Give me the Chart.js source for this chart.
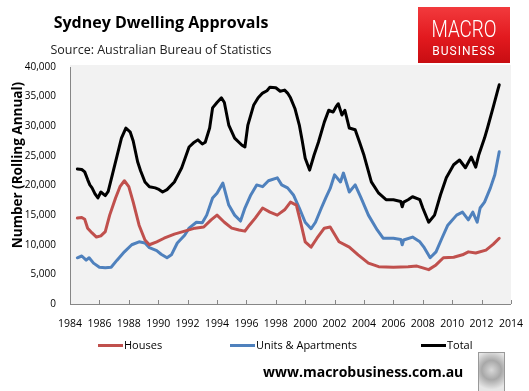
<!DOCTYPE html>
<html>
<head>
<meta charset="utf-8">
<script src="https://cdn.jsdelivr.net/npm/chart.js@4.4.1/dist/chart.umd.min.js"></script>
<style>
  html, body { margin: 0; padding: 0; background: #fff; }
  body { width: 529px; height: 391px; position: relative; overflow: hidden; font-family: "Open Sans", "Liberation Sans", sans-serif; }
  #c { position: absolute; left: 0; top: 0; }
  .title { position: absolute; left: 0; width: 322px; top: 11px; text-align: center; font-weight: bold; font-size: 16px; color: #000; }
  .sub { position: absolute; left: 0; width: 322px; top: 41px; text-align: center; font-size: 12.5px; color: #222; }
  .logo { position: absolute; left: 418px; top: 7px; width: 92px; height: 56px; background: linear-gradient(180deg, #f23a3d 0%, #e2191e 55%, #c80d12 100%); color: #fff; text-align: center; overflow: hidden; }
  .logo .m { position: absolute; left: 0; width: 92px; top: 10px; font-size: 23px; font-family: Roboto, "Liberation Sans", sans-serif; font-weight: 300; line-height: 26px; transform: scaleX(0.82); }
  .logo .b { position: absolute; left: 0; width: 92px; top: 37px; font-size: 12px; font-family: Roboto, "Liberation Sans", sans-serif; font-weight: 400; letter-spacing: 1px; line-height: 14px; }
  .ylab { position: absolute; left: -83px; top: 156px; width: 200px; height: 18px; line-height: 18px; text-align: center; transform: rotate(-90deg); white-space: nowrap; font-weight: bold; font-size: 13.5px; color: #000; }
  .leg { position: absolute; top: 337px; font-size: 11px; color: #000; white-space: nowrap; }
  .leg span.sw { display: inline-block; width: 25px; height: 3px; vertical-align: middle; margin-right: 1px; position: relative; top: -1px; }
  .url { position: absolute; left: 263px; top: 362px; font-weight: bold; font-size: 14px; color: #000; white-space: nowrap; }
  .wolf { position: absolute; left: 478px; top: 352px; width: 25px; height: 38px; border: 1px solid #999; background: radial-gradient(circle at 50% 45%, #d8d8d8 0%, #a8a8a8 40%, #e6e6e6 80%); }
</style>
</head>
<body>
<canvas id="c" width="529" height="391"></canvas>
<div class="title">Sydney Dwelling Approvals</div>
<div class="sub">Source: Australian Bureau of Statistics</div>
<div class="logo"><div class="m">MACRO</div><div class="b">BUSINESS</div></div>
<div class="ylab">Number (Rolling Annual)</div>
<div class="leg" style="left:98px"><span class="sw" style="background:#C0504D"></span>Houses</div>
<div class="leg" style="left:230px"><span class="sw" style="background:#4F81BD"></span>Units &amp; Apartments</div>
<div class="leg" style="left:421px"><span class="sw" style="background:#000"></span>Total</div>
<div class="url">www.macrobusiness.com.au</div>
<div class="wolf"></div>
<script>
// ---- Data ----
const seriesNames = ["Houses", "Units & Apartments", "Total"];
const xTickYears = [1984, 1986, 1988, 1990, 1992, 1994, 1996, 1998, 2000, 2002, 2004, 2006, 2008, 2010, 2012, 2014];
const yTickValues = [0, 5000, 10000, 15000, 20000, 25000, 30000, 35000, 40000];

const houseYears = [1984.5, 1984.8, 1985.0, 1985.2, 1985.5, 1985.8, 1986.1, 1986.4, 1986.7, 1987.1, 1987.4, 1987.7, 1988.0, 1988.3, 1988.7, 1989.1, 1989.4, 1989.9, 1990.4, 1991.1, 1991.8, 1992.5, 1993.1, 1993.6, 1994.0, 1994.5, 1995.0, 1995.5, 1995.9, 1996.2, 1996.6, 1997.1, 1997.6, 1998.1, 1998.6, 1999.0, 1999.4, 1999.7, 2000.0, 2000.4, 2000.8, 2001.3, 2001.7, 2002.3, 2003.0, 2003.6, 2004.3, 2005.0, 2006.0, 2007.0, 2007.6, 2008.0, 2008.4, 2008.9, 2009.4, 2010.1, 2010.7, 2011.1, 2011.6, 2012.3, 2012.8, 2013.2];
const houseValues = [14500, 14600, 14300, 12800, 12000, 11300, 11500, 12200, 15000, 17900, 19800, 20800, 19800, 17200, 13300, 10800, 10000, 10500, 11100, 11800, 12300, 12800, 13000, 14200, 15000, 13800, 12800, 12500, 12300, 13300, 14500, 16200, 15500, 15000, 15900, 17200, 16700, 13700, 10500, 9600, 11100, 12800, 13000, 10500, 9600, 8300, 6900, 6300, 6200, 6300, 6400, 6100, 5800, 6600, 7800, 7900, 8300, 8800, 8600, 9100, 10100, 11100];

const unitYears = [1984.5, 1984.8, 1985.1, 1985.3, 1985.6, 1986.0, 1986.4, 1986.8, 1987.2, 1987.7, 1988.2, 1988.7, 1989.1, 1989.4, 1989.9, 1990.2, 1990.6, 1990.9, 1991.3, 1991.8, 1992.1, 1992.6, 1993.0, 1993.3, 1993.7, 1994.0, 1994.4, 1994.8, 1995.2, 1995.6, 1995.9, 1996.3, 1996.7, 1997.1, 1997.5, 1998.1, 1998.4, 1998.8, 1999.2, 1999.6, 2000.0, 2000.4, 2000.7, 2001.1, 2001.4, 2001.7, 2002.0, 2002.4, 2002.6, 2003.0, 2003.4, 2003.8, 2004.3, 2004.9, 2005.3, 2006.0, 2006.5, 2006.6, 2006.7, 2007.3, 2007.8, 2008.1, 2008.5, 2008.9, 2009.3, 2009.7, 2010.3, 2010.7, 2011.1, 2011.4, 2011.7, 2011.9, 2012.2, 2012.6, 2012.9, 2013.2];
const unitValues = [7800, 8100, 7400, 7800, 6900, 6200, 6100, 6200, 7400, 8800, 10000, 10500, 10300, 9500, 9000, 8400, 7800, 8300, 10300, 11600, 12800, 13800, 13700, 15000, 17900, 18700, 20400, 16700, 15000, 14000, 16200, 18400, 20100, 19800, 20800, 21300, 20100, 19600, 18400, 16200, 13800, 12700, 13800, 16200, 17900, 19500, 21800, 20600, 22100, 18900, 20100, 17900, 15000, 12500, 11100, 11100, 10900, 10000, 10800, 11300, 10500, 9500, 7800, 8800, 11100, 13300, 15000, 15500, 14200, 15500, 13800, 16200, 17200, 19600, 21800, 25700];

const totalYears = [1984.5, 1984.8, 1985.0, 1985.2, 1985.35, 1985.5, 1985.7, 1985.9, 1986.1, 1986.4, 1986.6, 1986.9, 1987.2, 1987.5, 1987.8, 1988.1, 1988.3, 1988.6, 1988.8, 1989.1, 1989.4, 1989.8, 1990.0, 1990.3, 1990.6, 1991.1, 1991.6, 1992.1, 1992.4, 1992.7, 1993.0, 1993.2, 1993.5, 1993.7, 1994.0, 1994.3, 1994.5, 1994.8, 1995.2, 1995.7, 1995.9, 1996.1, 1996.5, 1996.8, 1997.1, 1997.4, 1997.6, 1998.0, 1998.3, 1998.6, 1998.8, 1999.0, 1999.3, 1999.6, 1999.8, 2000.0, 2000.3, 2000.6, 2000.9, 2001.3, 2001.6, 2001.9, 2002.1, 2002.25, 2002.5, 2002.7, 2003.0, 2003.4, 2003.7, 2004.0, 2004.5, 2005.0, 2005.5, 2006.0, 2006.5, 2006.6, 2006.7, 2007.0, 2007.3, 2007.8, 2008.0, 2008.4, 2008.8, 2009.2, 2009.6, 2010.1, 2010.5, 2010.9, 2011.3, 2011.6, 2011.8, 2012.2, 2012.4, 2012.8, 2013.1, 2013.2];
const totalValues = [22800, 22700, 22300, 21000, 20100, 19600, 18600, 17900, 18900, 18300, 19000, 22000, 25000, 28000, 29700, 29000, 27500, 24000, 22500, 20600, 19800, 19600, 19400, 18900, 19300, 20600, 23000, 26500, 27200, 27700, 27000, 27300, 29700, 33100, 34000, 34800, 34000, 30200, 28000, 26800, 26500, 30200, 33600, 34800, 35600, 36000, 36600, 36500, 35900, 36100, 35600, 34800, 33000, 30200, 27500, 24600, 22600, 25100, 27300, 30700, 32700, 32400, 33300, 33800, 31900, 32700, 29700, 29400, 27300, 25100, 20600, 18700, 17600, 17600, 17300, 16400, 17200, 17600, 18100, 17600, 16200, 13800, 15000, 18400, 21300, 23500, 24300, 23000, 24800, 23100, 25100, 28000, 29700, 33300, 36100, 37000];

function pts(xs, ys) { return xs.map((x, i) => ({ x: x, y: ys[i] })); }

const bgPlugin = {
  id: 'plotBg',
  beforeDraw(chart) {
    const { ctx, chartArea: a } = chart;
    ctx.save();
    ctx.fillStyle = '#f2f2f2';
    ctx.fillRect(a.left, a.top - 2, a.right - a.left, a.bottom - a.top + 2);
    ctx.restore();
  },
  afterDatasetsDraw(chart) {
    const { ctx, chartArea: a, scales: { x } } = chart;
    ctx.save();
    ctx.strokeStyle = '#868686';
    ctx.lineWidth = 1;
    xTickYears.forEach(v => {
      const px = Math.round(x.getPixelForValue(v)) + 0.5;
      ctx.beginPath();
      ctx.moveTo(px, a.bottom);
      ctx.lineTo(px, a.bottom - 4);
      ctx.stroke();
    });
    ctx.restore();
  }
};

new Chart(document.getElementById('c'), {
  type: 'line',
  data: {
    datasets: [
      { label: seriesNames[0], data: pts(houseYears, houseValues), borderColor: '#C0504D', borderWidth: 3 },
      { label: seriesNames[1], data: pts(unitYears, unitValues), borderColor: '#4F81BD', borderWidth: 3 },
      { label: seriesNames[2], data: pts(totalYears, totalValues), borderColor: '#000000', borderWidth: 3 }
    ]
  },
  options: {
    responsive: false,
    animation: false,
    events: [],
    layout: { padding: { left: 0, top: 67, right: 17, bottom: 57 } },
    elements: { point: { radius: 0 }, line: { tension: 0, borderJoinStyle: 'round', borderCapStyle: 'round' } },
    plugins: { legend: { display: false }, title: { display: false }, tooltip: { enabled: false } },
    scales: {
      x: {
        type: 'linear', min: 1984, max: 2014,
        afterBuildTicks(s) { s.ticks = xTickYears.map(v => ({ value: v })); },
        afterFit(s) { s.height = 30; },
        grid: { display: false },
        border: { display: true, color: '#868686', width: 1 },
        ticks: { autoSkip: false, maxRotation: 0, padding: 6, color: '#000', font: { family: 'Open Sans', size: 10.5 }, callback: v => String(v) }
      },
      y: {
        min: 0, max: 40000,
        afterBuildTicks(s) { s.ticks = yTickValues.map(v => ({ value: v })); },
        afterFit(s) { s.width = 70; },
        grid: { display: false },
        border: { display: true, color: '#868686', width: 1 },
        ticks: { padding: 6, color: '#000', font: { family: 'Open Sans', size: 10 }, callback: v => v.toLocaleString('en-US') }
      }
    }
  },
  plugins: [bgPlugin]
});
</script>
</body>
</html>
